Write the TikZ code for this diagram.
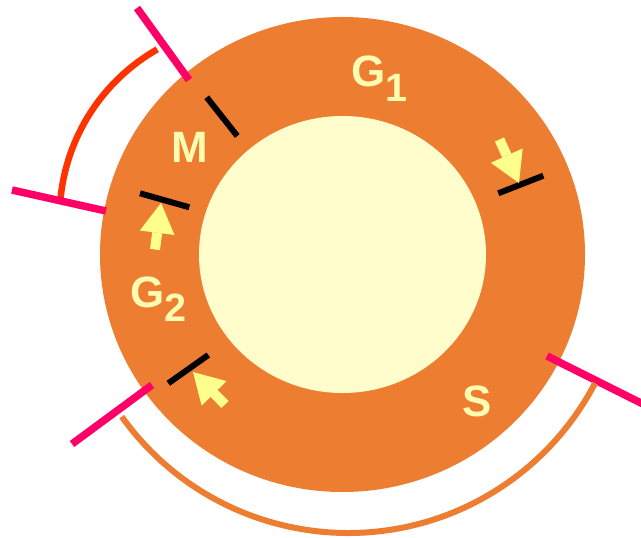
\documentclass[tikz,border=0pt]{standalone}
\usepackage{fontspec}
\setmainfont{Liberation Sans}
\usetikzlibrary{arrows.meta}
\definecolor{ring}{RGB}{237,125,49}
\definecolor{nucl}{RGB}{255,253,204}
\definecolor{lbl}{RGB}{255,252,178}
\definecolor{pnt}{RGB}{255,255,140}
\definecolor{chkc}{RGB}{255,0,102}
\definecolor{mph}{RGB}{255,51,0}
\tikzset{
  ph/.style={text=lbl,font=\fontsize{25}{30}\selectfont\bfseries,inner sep=0pt},
  chk/.style={draw=chkc,line width=0.15cm},
  bar/.style={draw=black,line width=0.12cm},
  pt/.style={draw=pnt,line width=0.2cm,
    -{Triangle[length=0.6cm,width=0.7cm,line width=0pt]}},
}
\newcommand{\sub}[1]{\raisebox{-8.5pt}{\fontsize{22.5}{26}\selectfont #1}}
\begin{document}
\begin{tikzpicture}[x=0.02cm,y=0.02cm]
  \useasboundingbox (-342.5,-282.5) rectangle (298.5,254.5);
  % cell: ring and nucleus
  \coordinate (c) at (0,0);
  \fill[ring] (c) ellipse [x radius=242.5,y radius=237.5];
  \fill[nucl] (c) ellipse [x radius=143.5,y radius=138.5];
  % phase borders
  \draw[bar] (-135.8,157.2) coordinate (b1o) -- (-105.2,118.5) coordinate (b1i);
  \draw[bar] (-202.5,61.2)  coordinate (b2o) -- (-153.2,47.2)  coordinate (b2i);
  \draw[bar] (-174.2,-128.8) coordinate (b3o) -- (-134.2,-100.5) coordinate (b3i);
  \draw[bar] (155.8,61.2)   coordinate (b4i) -- (200.8,78.8)   coordinate (b4o);
  % arrows onto the borders
  \coordinate (a1) at (-187.5,5);    \coordinate (t1) at (-181.5,51.5);
  \coordinate (a2) at (157,115);     \coordinate (t2) at (176.5,71.5);
  \coordinate (a3) at (-117.5,-150); \coordinate (t3) at (-149.5,-117.5);
  \draw[pt] (a1) -- (t1);
  \draw[pt] (a2) -- (t2);
  \draw[pt] (a3) -- (t3);
  % phases
  \node[ph,anchor=base west] (g1) at (8.5,167.5)   {G\sub{1}};
  \node[ph,anchor=base]      (m)  at (-152.5,91.5) {M};
  \node[ph,anchor=base west] (g2) at (-212.5,-52.5) {G\sub{2}};
  \node[ph,anchor=base]      (s)  at (135,-161.5)  {S};
  % outer brackets
  \coordinate (rc) at (-89.3,37);
  \draw[draw=mph,line width=0.13cm] (rc) ++(119.7:193.6)
    arc[start angle=119.7,end angle=175,radius=193.6];
  \draw[chk] (-153.5,174.5) coordinate (k1i) -- (-205.5,246.5) coordinate (k1o);
  \draw[chk] (-236.5,43.5)  coordinate (k2i) -- (-330.5,64.5)  coordinate (k2o);
  \draw[chk] (-190.5,-130.5) coordinate (k3i) -- (-270.5,-189.5) coordinate (k3o);
  \draw[chk] (204.5,-101.5) coordinate (k4i) -- (302.8,-150.7) coordinate (k4o);
  \coordinate (oc) at (5.6,-0.1);
  \draw[draw=ring,line width=0.12cm] (oc) ++(215.6:278.4)
    arc[start angle=215.6,end angle=332.5,radius=278.4];
\end{tikzpicture}
\end{document}
